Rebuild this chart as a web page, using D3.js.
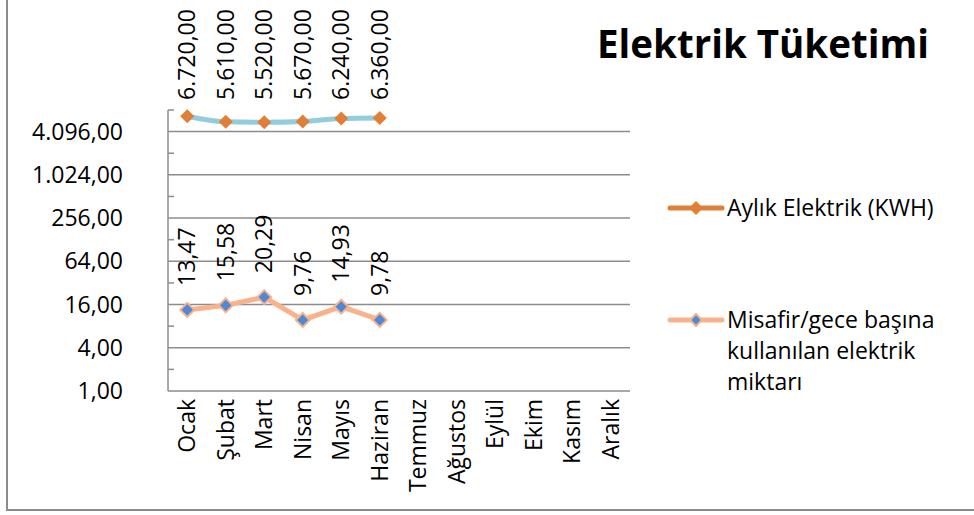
<!DOCTYPE html>
<html><head><meta charset="utf-8">
<script src="https://cdn.jsdelivr.net/npm/d3@7"></script>
<style>
html,body{margin:0;padding:0;background:#fff;}
svg{display:block;font-family:"Open Sans",sans-serif;}
</style></head>
<body><svg id="c" width="974" height="515"></svg>
<script>
const months = ["Ocak","Şubat","Mart","Nisan","Mayıs","Haziran","Temmuz","Ağustos","Eylül","Ekim","Kasım","Aralık"];
const aylikElektrik = [6720, 5610, 5520, 5670, 6240, 6360];
const misafirBasina = [13.47, 15.58, 20.29, 9.76, 14.93, 9.78];
const majorTicks = [1, 4, 16, 64, 256, 1024, 4096];
const minorTicks = [2, 8, 32, 128, 512, 2048, 8192];
const seriesNames = ["Aylık Elektrik (KWH)", ["Misafir/gece başına", "kullanılan elektrik", "miktarı"]];
const title = "Elektrik Tüketimi";

const svg = d3.select("#c");
const L = 168, R = 630, T = 110, B = 391;
const fs = 23;
const trLocale = d3.formatLocale({decimal: ",", thousands: ".", grouping: [3], currency: ["", ""]});
const fmt = trLocale.format(",.2f");

const x = d3.scalePoint().domain(months).range([L, R]).padding(0.5);
const y = d3.scaleLog().base(2).domain([1, 8192]).range([B, T]);

// outer border
svg.append("path").attr("d", `M7,-5 V510 H980`).attr("fill","none").attr("stroke","#8c8c8c").attr("stroke-width",2);

// gridlines
svg.append("g").selectAll("line").data(majorTicks).join("line")
  .attr("x1", L).attr("x2", R).attr("y1", d => y(d)).attr("y2", d => y(d))
  .attr("stroke", "#8c8c8c").attr("stroke-width", 1.5);
// y axis line
svg.append("line").attr("x1", L).attr("x2", L).attr("y1", y(8192)).attr("y2", B)
  .attr("stroke","#8c8c8c").attr("stroke-width",1.5);
// minor ticks
svg.append("g").selectAll("line").data(minorTicks).join("line")
  .attr("x1", L).attr("x2", L + 6).attr("y1", d => y(d)).attr("y2", d => y(d))
  .attr("stroke", "#8c8c8c").attr("stroke-width", 1.5);

// y labels
svg.append("g").selectAll("text").data(majorTicks).join("text")
  .attr("x", 123).attr("y", d => y(d)).attr("dy", "0.35em")
  .attr("text-anchor","end").attr("font-size", fs).attr("fill","#000")
  .text(d => fmt(d));

// x labels
svg.append("g").selectAll("text").data(months).join("text")
  .attr("transform", d => `translate(${x(d)},399) rotate(-90)`)
  .attr("dy","0.35em").attr("text-anchor","end").attr("font-size", fs).attr("fill","#000")
  .text(d => d);

function diamondPath(cx, cy, r){ return `M${cx},${cy-r}L${cx+r},${cy}L${cx},${cy+r}L${cx-r},${cy}Z`; }

// Aylık series
const m1 = months.slice(0, aylikElektrik.length);
svg.append("path").datum(aylikElektrik)
  .attr("d", d3.line().x((d,i) => x(m1[i])).y(d => y(d)).curve(d3.curveMonotoneX))
  .attr("fill","none").attr("stroke","#93cddd").attr("stroke-width",5);
svg.append("g").selectAll("path").data(aylikElektrik).join("path")
  .attr("d", (d,i) => diamondPath(x(m1[i]), y(d), 7))
  .attr("fill","#e07f36");
svg.append("g").selectAll("text").data(aylikElektrik).join("text")
  .attr("transform", (d,i) => `translate(${x(m1[i])},${y(8192) - 10}) rotate(-90)`)
  .attr("dy","0.35em").attr("font-size", fs).attr("fill","#000")
  .text(d => fmt(d));

// Misafir series
const m2 = months.slice(0, misafirBasina.length);
svg.append("path").datum(misafirBasina)
  .attr("d", d3.line().x((d,i) => x(m2[i])).y(d => y(d)))
  .attr("fill","none").attr("stroke","#f9b28c").attr("stroke-width",5);
svg.append("g").selectAll("path").data(misafirBasina).join("path")
  .attr("d", (d,i) => diamondPath(x(m2[i]), y(d), 7))
  .attr("fill","#4f88d6").attr("stroke","#f9b28c").attr("stroke-width",2);
svg.append("g").selectAll("text").data(misafirBasina).join("text")
  .attr("transform", (d,i) => `translate(${x(m2[i])},${y(d) - 24}) rotate(-90)`)
  .attr("dy","0.35em").attr("font-size", fs).attr("fill","#000")
  .text(d => fmt(d));

// title
svg.append("text").attr("x", 597).attr("y", 58).attr("font-size", 38.5).attr("font-weight","bold")
  .attr("fill","#000").text(title);

// legend
const lg = svg.append("g");
const legY = [208, 320];
lg.append("line").attr("x1",670).attr("x2",722).attr("y1",legY[0]).attr("y2",legY[0])
  .attr("stroke","#e07f36").attr("stroke-width",5).attr("stroke-linecap","round");
lg.append("path").attr("d", diamondPath(696, legY[0], 7)).attr("fill","#e07f36");
lg.append("text").attr("x",727).attr("y",legY[0]).attr("dy","0.35em").attr("font-size",fs).text(seriesNames[0]);
lg.append("line").attr("x1",670).attr("x2",722).attr("y1",legY[1]).attr("y2",legY[1])
  .attr("stroke","#f9b28c").attr("stroke-width",5).attr("stroke-linecap","round");
lg.append("path").attr("d", diamondPath(696, legY[1], 6)).attr("fill","#4f88d6").attr("stroke","#f9b28c").attr("stroke-width",2);
const t2 = lg.append("text").attr("x",727).attr("y",legY[1]).attr("font-size",fs);
seriesNames[1].forEach((s,i) => t2.append("tspan").attr("x",727).attr("dy", i===0 ? "0.35em" : 31).text(s));
</script></body></html>
